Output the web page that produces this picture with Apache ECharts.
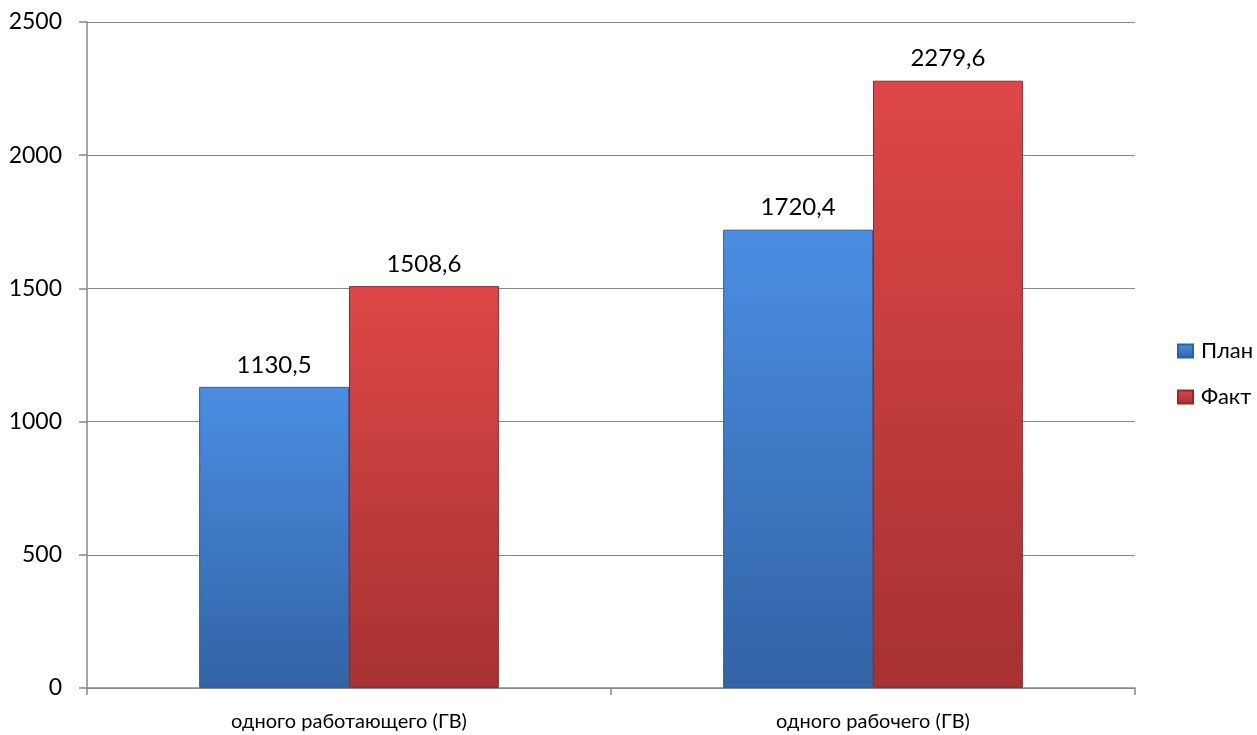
<!DOCTYPE html>
<html>
<head>
<meta charset="utf-8">
<script src="https://cdn.jsdelivr.net/npm/echarts@6/dist/echarts.min.js"></script>
<style>html,body{margin:0;padding:0;background:#fff;}#c{width:1257px;height:735px;}</style>
</head>
<body>
<div id="c"></div>
<script>
var categories = ['одного работающего (ГВ)', 'одного рабочего (ГВ)'];
var seriesNames = ['План', 'Факт'];
var planValues = [1130.5, 1720.4];
var factValues = [1508.6, 2279.6];
var yTicks = [0, 500, 1000, 1500, 2000, 2500];

function grad(top, bottom) {
  return {type: 'linear', x: 0, y: 0, x2: 0, y2: 1,
    colorStops: [{offset: 0, color: top}, {offset: 1, color: bottom}]};
}
var fontFam = 'Lato, "Open Sans", sans-serif';
var chart = echarts.init(document.getElementById('c'));
var labelCfg = {
  show: true, position: 'top', distance: 10, color: '#000', fontSize: 24, fontFamily: fontFam,
  formatter: function (p) { return String(p.value.toFixed(1)).replace('.', ','); }
};
chart.setOption({
  animation: false,
  backgroundColor: '#fff',
  grid: {left: 87, right: 122, top: 22, bottom: 47},
  legend: {
    orient: 'vertical', left: 1177, top: 340, itemWidth: 15, itemHeight: 13, itemGap: 24,
    icon: 'rect', padding: 0,
    textStyle: {fontSize: 22, fontFamily: fontFam, color: '#000', padding: [0, 0, 0, 3]},
    data: seriesNames
  },
  xAxis: {
    type: 'category', data: categories,
    axisLine: {lineStyle: {color: '#888', width: 1.5}},
    axisTick: {show: true, length: 7, lineStyle: {color: '#888', width: 1.5}},
    axisLabel: {fontSize: 20, fontFamily: fontFam, color: '#000', margin: 24}
  },
  yAxis: {
    type: 'value', min: yTicks[0], max: yTicks[yTicks.length - 1], interval: 500,
    axisLine: {show: true, lineStyle: {color: '#888', width: 1.5}},
    axisTick: {show: true, length: 8, lineStyle: {color: '#888', width: 1.5}},
    splitLine: {lineStyle: {color: '#888', width: 1.2}},
    axisLabel: {fontSize: 23, fontFamily: fontFam, color: '#000', margin: 25,
      formatter: function (v) { return String(v); }}
  },
  series: [
    {name: seriesNames[0], type: 'bar', data: planValues, barWidth: '28.6%', barGap: '0%',
     itemStyle: {color: grad('#4a8ee2', '#3263a6'), borderColor: '#2f5f9e', borderWidth: 1},
     label: labelCfg},
    {name: seriesNames[1], type: 'bar', data: factValues, barWidth: '28.6%', barGap: '0%',
     itemStyle: {color: grad('#de4747', '#a63131'), borderColor: '#8f2a2a', borderWidth: 1},
     label: labelCfg}
  ]
});
</script>
</body>
</html>
